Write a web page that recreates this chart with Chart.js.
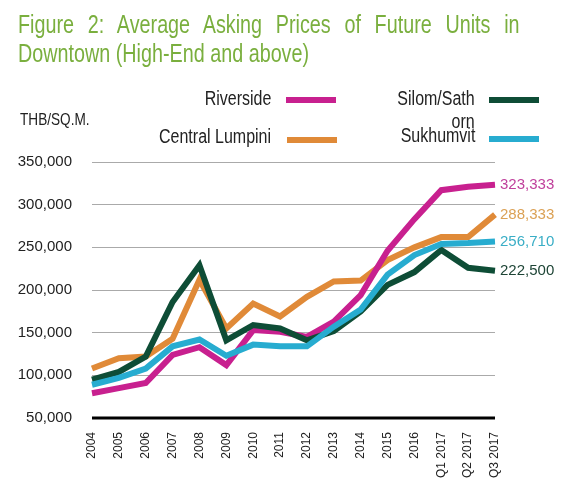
<!DOCTYPE html>
<html>
<head>
<meta charset="utf-8">
<script src="https://cdn.jsdelivr.net/npm/chart.js@4/dist/chart.umd.min.js"></script>
<style>
  html, body { margin: 0; padding: 0; background: #fff; }
  #wrap { position: relative; width: 583px; height: 489px; overflow: hidden; font-family: 'Liberation Sans', sans-serif; }
  #c { position: absolute; left: 0; top: 0; }
  .title { position: absolute; left: 18px; color: #7aaf3e; font-size: 26px; line-height: 30px; white-space: nowrap; transform: scaleX(0.76); transform-origin: left top; }
  #t1 { top: 9px; width: 660px; text-align: justify; text-align-last: justify; white-space: normal; }
  #t2 { top: 38px; }
  .unit { position: absolute; left: 20px; top: 110px; font-size: 17px; color: #222; transform: scaleX(0.8); transform-origin: left center; white-space: nowrap; }
  .leg { position: absolute; font-size: 20px; color: #222; text-align: right; line-height: 23px; transform: scaleX(0.8); transform-origin: right center; white-space: nowrap; }
  .sw { position: absolute; height: 6px; width: 50px; }
</style>
</head>
<body>
<div id="wrap">
  <canvas id="c" width="583" height="489"></canvas>
  <div class="title" id="t1">Figure 2: Average Asking Prices of Future Units in</div>
  <div class="title" id="t2">Downtown (High-End and above)</div>
  <div class="unit">THB/SQ.M.</div>
  <div id="legend"></div>
</div>
<script>
// ---- data ----
const categories = ['2004','2005','2006','2007','2008','2009','2010','2011','2012','2013','2014','2015','2016','Q1 2017','Q2 2017','Q3 2017'];
const riverside      = [79000, 85000, 91000, 124000, 133000, 112000, 153000, 151000, 145000, 163000, 194000, 246000, 283000, 317000, 321000, 323333];
const silomSathorn   = [95000, 104000, 122000, 186000, 229000, 141000, 159000, 155000, 141000, 152000, 175000, 206000, 221000, 247000, 226000, 222500];
const centralLumpini = [108000, 120000, 122000, 143000, 212000, 155000, 184000, 169000, 192000, 210000, 211000, 235000, 250000, 262000, 262000, 288333];
const sukhumvit      = [89000, 97000, 108000, 134000, 142000, 123000, 136000, 134000, 134000, 157000, 177000, 218000, 241000, 254000, 255000, 256710];
const yTicks = [50000, 100000, 150000, 200000, 250000, 300000, 350000];
const endLabels = ['323,333', '222,500', '288,333', '256,710'];

const colors = {
  riverside: '#c8208f',
  silom: '#0e4d36',
  lumpini: '#e08a38',
  sukhumvit: '#27acd0'
};
const labelColors = {
  riverside: '#c0409c',
  silom: '#1e4536',
  lumpini: '#dba155',
  sukhumvit: '#3aaec6'
};

// legend (HTML)
const legendItems = [
  { text: 'Riverside', right: 312, top: 87, color: colors.riverside, sx: 286, sy: 97 },
  { text: 'Central Lumpini', right: 312, top: 125, color: colors.lumpini, sx: 287, sy: 137 },
  { text: 'Silom/Sath<br>orn', right: 108, top: 87, color: colors.silom, sx: 489, sy: 97 },
  { text: 'Sukhumvit', right: 108, top: 124, color: colors.sukhumvit, sx: 489, sy: 136 }
];
const leg = document.getElementById('legend');
legendItems.forEach(it => {
  const d = document.createElement('div');
  d.className = 'leg';
  d.style.right = it.right + 'px';
  d.style.top = it.top + 'px';
  d.innerHTML = it.text;
  leg.appendChild(d);
  const s = document.createElement('div');
  s.className = 'sw';
  s.style.left = it.sx + 'px';
  s.style.top = it.sy + 'px';
  s.style.background = it.color;
  leg.appendChild(s);
});

const FONT = "'Liberation Sans', sans-serif";

const endLabelPlugin = {
  id: 'endLabels',
  afterDatasetsDraw(chart) {
    const ctx = chart.ctx;
    const ys = chart.scales.y;
    ctx.save();
    ctx.font = '15px ' + FONT;
    ctx.textAlign = 'left';
    ctx.textBaseline = 'middle';
    chart.data.datasets.forEach(ds => {
      const v = ds.data[ds.data.length - 1];
      ctx.fillStyle = ds.endColor;
      ctx.fillText(ds.endLabel, chart.chartArea.right + 5, ys.getPixelForValue(v));
    });
    ctx.restore();
  }
};

const baseLinePlugin = {
  id: 'baseLine',
  afterDraw(chart) {
    const ctx = chart.ctx;
    const y = Math.round(chart.scales.y.getPixelForValue(yTicks[0]));
    ctx.save();
    ctx.strokeStyle = '#000';
    ctx.lineWidth = 3;
    ctx.beginPath();
    ctx.moveTo(chart.chartArea.left, y);
    ctx.lineTo(chart.chartArea.right, y);
    ctx.stroke();
    ctx.restore();
  }
};

new Chart(document.getElementById('c'), {
  type: 'line',
  data: {
    labels: categories,
    datasets: [
      { label: 'Sukhumvit', data: sukhumvit, borderColor: colors.sukhumvit, endColor: labelColors.sukhumvit, endLabel: endLabels[3] },
      { label: 'Silom/Sathorn', data: silomSathorn, borderColor: colors.silom, endColor: labelColors.silom, endLabel: endLabels[1] },
      { label: 'Riverside', data: riverside, borderColor: colors.riverside, endColor: labelColors.riverside, endLabel: endLabels[0] },
      { label: 'Central Lumpini', data: centralLumpini, borderColor: colors.lumpini, endColor: labelColors.lumpini, endLabel: endLabels[2] }
    ]
  },
  options: {
    responsive: false,
    animation: false,
    devicePixelRatio: 1,
    layout: { padding: { left: 0, right: 88, top: 162, bottom: 0 } },
    elements: {
      line: { borderWidth: 6, tension: 0, borderJoinStyle: 'miter', borderCapStyle: 'butt' },
      point: { radius: 0, hoverRadius: 0 }
    },
    plugins: {
      legend: { display: false },
      title: { display: false },
      tooltip: { enabled: false }
    },
    scales: {
      x: {
        offset: false,
        grid: { display: false, drawTicks: false },
        border: { display: false },
        ticks: {
          autoSkip: false, maxRotation: 90, minRotation: 90, padding: 14,
          color: '#222', font: { family: FONT, size: 12 }
        },
        afterFit(s) { s.height = 71; }
      },
      y: {
        min: 50000, max: 350000,
        afterBuildTicks(s) { s.ticks = yTicks.map(v => ({ value: v })); },
        grid: { drawTicks: false, color: '#aaa', lineWidth: 1 },
        border: { display: false },
        ticks: {
          padding: 20, color: '#222', font: { family: FONT, size: 15 },
          callback: v => v.toLocaleString('en-US')
        },
        afterFit(s) { s.width = 92; }
      }
    }
  },
  plugins: [endLabelPlugin, baseLinePlugin]
});
</script>
</body>
</html>
